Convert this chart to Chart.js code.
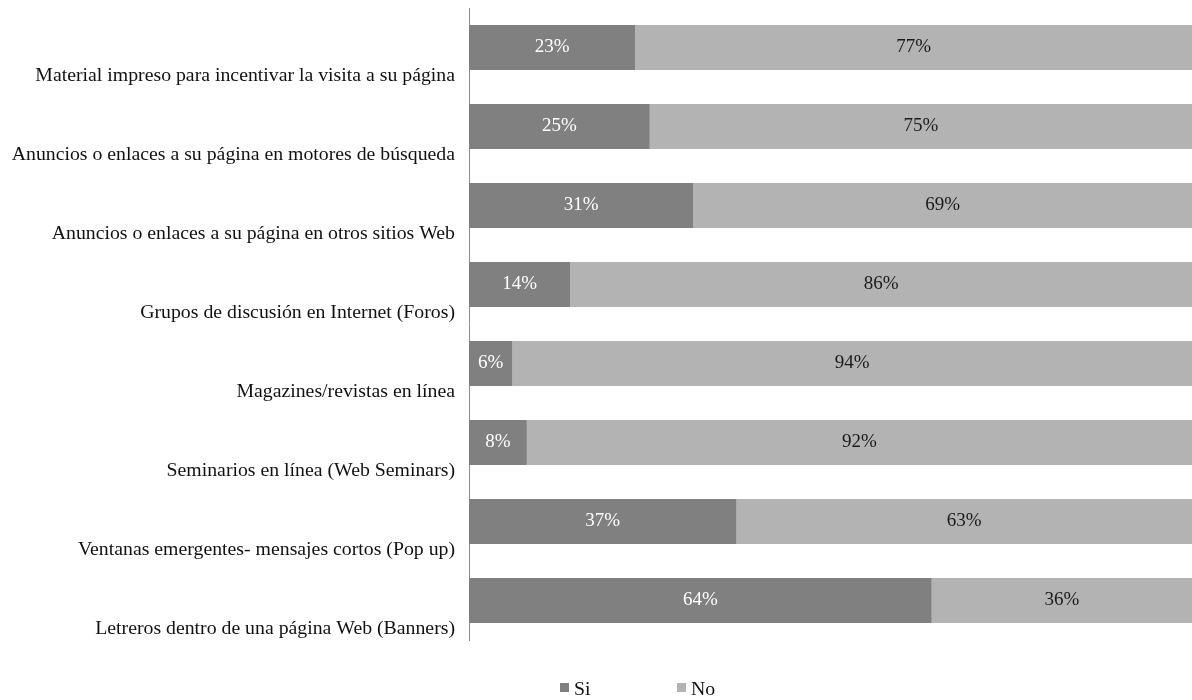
<!DOCTYPE html>
<html>
<head>
<meta charset="utf-8">
<script src="https://cdn.jsdelivr.net/npm/chart.js@4/dist/chart.umd.min.js"></script>
<style>
  html, body { margin: 0; padding: 0; background: #fff; }
  #wrap { width: 1192px; height: 700px; }
</style>
</head>
<body>
<div id="wrap"><canvas id="c" width="1192" height="700"></canvas></div>
<script>
// Survey: promotion channels used for the website (share answering Si / No)
const categories = [
  'Material impreso para incentivar la visita a su página',
  'Anuncios o enlaces a su página en motores de búsqueda',
  'Anuncios o enlaces a su página en otros sitios Web',
  'Grupos de discusión en Internet (Foros)',
  'Magazines/revistas en línea',
  'Seminarios en línea (Web Seminars)',
  'Ventanas emergentes- mensajes cortos (Pop up)',
  'Letreros dentro de una página Web (Banners)'
];
const siValues = [23, 25, 31, 14, 6, 8, 37, 64];
const noValues = [77, 75, 69, 86, 94, 92, 63, 36];
const seriesNames = ['Si', 'No'];

const FONT = '"Liberation Serif", "Times New Roman", serif';
const siColor = '#808080';
const noColor = '#b3b3b3';

// Percent labels centred inside each bar segment
const segmentLabels = {
  id: 'segmentLabels',
  afterDatasetsDraw(chart) {
    const ctx = chart.ctx;
    ctx.save();
    ctx.font = '19px ' + FONT;
    ctx.textAlign = 'center';
    ctx.textBaseline = 'middle';
    chart.data.datasets.forEach((ds, i) => {
      const meta = chart.getDatasetMeta(i);
      meta.data.forEach((bar, j) => {
        const v = ds.data[j];
        ctx.fillStyle = ds.labelColor;
        ctx.fillText(v + '%', (bar.x + bar.base) / 2, bar.y);
      });
    });
    ctx.restore();
  }
};

// Legend below the plot: small square swatch followed by the series name
const bottomLegend = {
  id: 'bottomLegend',
  afterDraw(chart) {
    const ctx = chart.ctx;
    const starts = [560, 677];
    const top = 683;
    ctx.save();
    ctx.font = '19.8px ' + FONT;
    ctx.textBaseline = 'middle';
    ctx.textAlign = 'left';
    chart.data.datasets.forEach((ds, i) => {
      ctx.fillStyle = ds.backgroundColor;
      ctx.fillRect(starts[i], top, 9, 9);
      ctx.fillStyle = '#111';
      ctx.fillText(ds.label, starts[i] + 14, top + 7);
    });
    ctx.restore();
  }
};

new Chart(document.getElementById('c'), {
  type: 'bar',
  data: {
    labels: categories,
    datasets: [
      { label: seriesNames[0], data: siValues, backgroundColor: siColor, labelColor: '#ffffff' },
      { label: seriesNames[1], data: noValues, backgroundColor: noColor, labelColor: '#1a1a1a' }
    ]
  },
  options: {
    indexAxis: 'y',
    responsive: false,
    devicePixelRatio: 1,
    animation: false,
    layout: { padding: { top: 8, bottom: 60, left: 0, right: 0 } },
    datasets: { bar: { categoryPercentage: 1, barPercentage: 0.57, borderWidth: 0 } },
    plugins: {
      legend: { display: false },
      tooltip: { enabled: false }
    },
    scales: {
      x: { stacked: true, min: 0, max: 100, display: false },
      y: {
        stacked: true,
        grid: { display: false },
        border: { display: true, color: '#8c8c8c', width: 1 },
        ticks: {
          color: '#111',
          font: { family: FONT, size: 19.8 },
          padding: 6,
          labelOffset: 28
        },
        afterFit(scale) {
          scale.width = 469;
          scale.paddingTop = 0;
          scale.paddingBottom = 0;
        }
      }
    }
  },
  plugins: [segmentLabels, bottomLegend]
});
</script>
</body>
</html>
